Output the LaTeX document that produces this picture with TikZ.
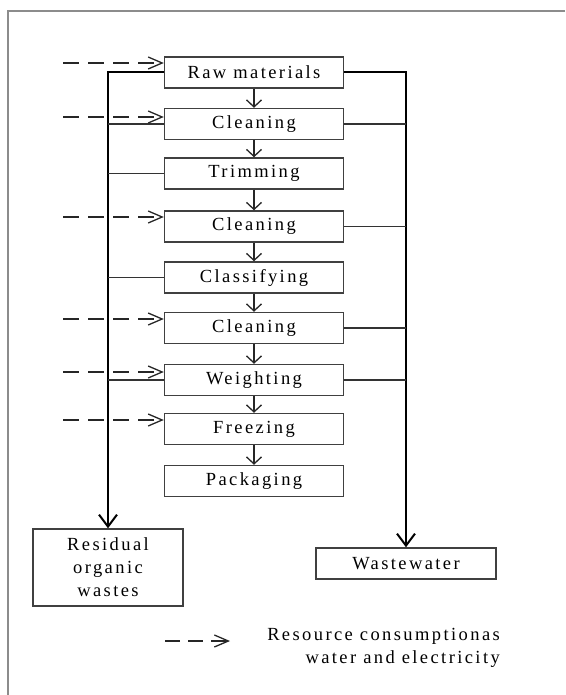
\documentclass[tikz,border=0pt]{standalone}
\usepackage{fontspec}
\setmainfont{Liberation Serif}[LetterSpace=13]
\usetikzlibrary{arrows.meta}
\begin{document}
\begin{tikzpicture}[x=1pt,y=-1pt,
  font=\fontsize{18.5}{23}\selectfont,
  stepbox/.style={draw=black!75,line width=1.4pt,minimum width=179pt,minimum height=31pt,inner sep=0pt},
  outbox/.style={draw=black!75,line width=1.4pt,inner sep=0pt,align=center},
  flow/.style={draw=black!85,line width=1.3pt,-{Straight Barb[length=7pt,width=15pt,line width=1.3pt]}},
  bus/.style={draw=black!80,line width=1.3pt},
  busend/.style={draw=black,line width=2pt,-{Straight Barb[length=12pt,width=18pt,line width=2pt]}},
  dasharrow/.style={draw=black!85,line width=1.3pt,dash pattern=on 16pt off 9pt,-{Straight Barb[length=14pt,width=12pt,line width=1.3pt]}}]
\useasboundingbox (0,0) rectangle (565,695);
% frame
\draw[draw=black!45,line width=2pt] (565,11) -- (8,11) -- (8,695);
% process boxes
\node[stepbox] (raw) at (254,72.5) {Raw materials};
\node[stepbox] (cl1) at (254,124) {Cleaning};
\node[stepbox] (trim) at (254,173.5) {Trimming};
\node[stepbox] (cl2) at (254,226.5) {Cleaning};
\node[stepbox] (cls) at (254,277.5) {Classifying};
\node[stepbox] (cl3) at (254,328) {Cleaning};
\node[stepbox] (wgt) at (254,380) {Weighting};
\node[stepbox] (frz) at (254,429) {Freezing};
\node[stepbox] (pkg) at (254,481) {Packaging};
% outputs
\node[outbox,minimum width=150pt,minimum height=77pt] (res) at (108,567.5) {Residual\\organic\\wastes};
\node[outbox,minimum width=180pt,minimum height=31pt] (ww) at (406,563.5) {Wastewater};
% flow arrows
\draw[flow] (raw) -- (cl1);
\draw[flow] (cl1) -- (trim);
\draw[flow] (trim) -- (cl2);
\draw[flow] (cl2) -- (cls);
\draw[flow] (cls) -- (cl3);
\draw[flow] (cl3) -- (wgt);
\draw[flow] (wgt) -- (frz);
\draw[flow] (frz) -- (pkg);
% left bus (residual organic wastes)
\draw[busend] (raw.west) -| (res.north);
\foreach \b in {cl1,trim,cls,wgt} \draw[bus] (\b.west) -- (\b.west -| res.north);
% right bus (wastewater)
\draw[busend] (raw.east) -| (ww.north);
\foreach \b in {cl1,cl2,cl3,wgt} \draw[bus] (\b.east) -- (\b.east -| ww.north);
% resource inputs
\coordinate (d1) at (63,63);
\coordinate (d2) at (63,117);
\coordinate (d3) at (63,217);
\coordinate (d4) at (63,319);
\coordinate (d5) at (63,372);
\coordinate (d6) at (63,420);
\draw[dasharrow] (d1) -- (d1 -| raw.west);
\draw[dasharrow] (d2) -- (d2 -| cl1.west);
\draw[dasharrow] (d3) -- (d3 -| cl2.west);
\draw[dasharrow] (d4) -- (d4 -| cl3.west);
\draw[dasharrow] (d5) -- (d5 -| wgt.west);
\draw[dasharrow] (d6) -- (d6 -| frz.west);
% legend
\coordinate (la) at (165,641);
\coordinate (lb) at (230,641);
\draw[dasharrow,dash pattern=on 15pt off 8pt] (la) -- (lb);
\node[anchor=north east,align=right,inner sep=0pt] (legtext) at (500,628) {Resource consumptionas\\water and electricity};
\end{tikzpicture}
\end{document}
